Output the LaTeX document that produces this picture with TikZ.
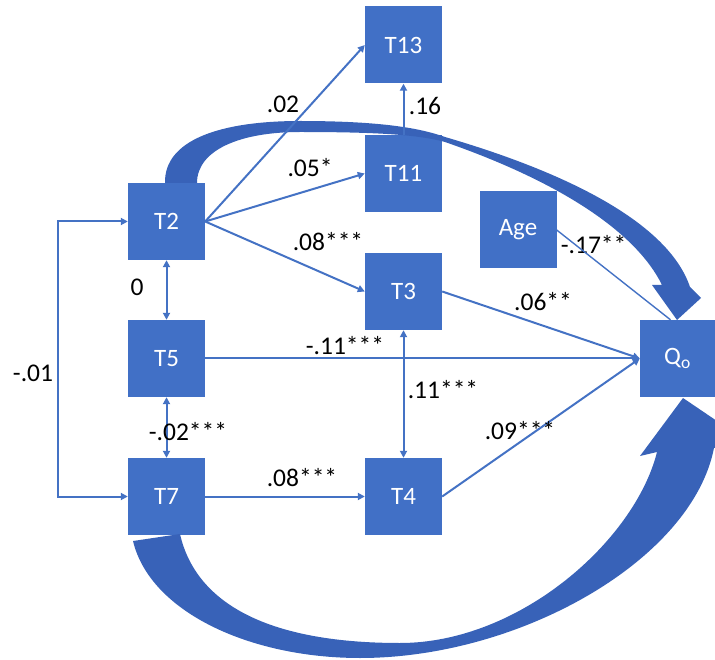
\documentclass[tikz,border=0pt]{standalone}
\usepackage{fontspec}
\setmainfont{Carlito}
\usetikzlibrary{arrows.meta}
\definecolor{boxblue}{HTML}{4170C6}
\definecolor{linkblue}{HTML}{4472C4}
\definecolor{bigblue}{HTML}{3862B8}
\tikzset{
  var/.style={rectangle, fill=boxblue, minimum width=77pt, minimum height=77pt,
    inner sep=0pt, text=white, font=\fontsize{25}{30}\selectfont},
  link/.style={draw=linkblue, line width=2pt, -{Triangle[length=7pt,width=7pt]}},
  both/.style={draw=linkblue, line width=2pt, {Triangle[length=7pt,width=7pt]}-{Triangle[length=7pt,width=7pt]}},
  thinlink/.style={draw=linkblue, line width=1.4pt},
  coef/.style={font=\fontsize{25.5}{30}\selectfont, text=black, inner sep=0pt},
  bigarrow/.style={fill=bigblue, draw=none}
}
\begin{document}
\begin{tikzpicture}[x=1pt, y=-1pt]
\useasboundingbox (0,0) rectangle (715,660);

% variables
\node[var] (T13) at (403.5,45)  {T13};
\node[var] (T11) at (403.5,173.5) {T11};
\node[var] (T2)  at (166.5,221.5) {T2};
\node[var] (Age) at (518,230)   {Age};
\node[var] (T3)  at (403.5,291.5) {T3};
\node[var] (T5)  at (166.5,358.5) {T5};
\node[var, minimum width=75pt] (Qo) at (677.5,358.5) {Q\textsubscript{o}};
\node[var] (T7)  at (166.5,496.5) {T7};
\node[var] (T4)  at (403.5,496.5) {T4};

% coefficient under the upper curved arrow
\node[coef] (lAge) at (600,245) {-.17***};

% upper curved arrow: T2 to Qo
\path[bigarrow] (165,183) .. controls (164,140) and (220,121) .. (300,121)
  .. controls (380,121) and (420,128) .. (445,137)
  .. controls (565,172) and (668,222) .. (690,287)
  -- (701,298) -- (677,320) -- (652,285) -- (662,285)
  .. controls (636,232) and (560,182) .. (445,142)
  .. controls (420,135) and (380,132) .. (300,132)
  .. controls (240,132) and (197,150) .. (197,183) -- cycle;

% lower curved arrow: T7 to Qo
\path[bigarrow] (133,541) .. controls (150,612) and (250,658) .. (360,658)
  .. controls (520,658) and (692,560) .. (714,448)
  -- (745,440) -- (683,398) -- (640,456) -- (657,452)
  .. controls (635,540) and (520,643) .. (400,643)
  .. controls (262,643) and (195,600) .. (180,534) -- cycle;

% paths
\draw[link] (T2.east) -- (T13.west);
\draw[link] (T2.east) -- (T11.west);
\draw[link] (T2.east) -- (T3.west);
\draw[link] (T11.north) -- (T13.south);
\draw[both] (T2.south) -- (T5.north);
\draw[both] (T5.south) -- (T7.north);
\draw[both] (T3.south) -- (T4.north);
\draw[both] (T2.west) -- ++(-70,0) |- (T7.west);
\draw[link] (T7.east) -- (T4.west);
\draw[link] (T5.east) -- (Qo.west);
\draw[link] (T3.east) -- (Qo.west);
\draw[link] (T4.east) -- (Qo.west);
\draw[thinlink] (Age.east) -- ([xshift=-7pt]Qo.north);

% coefficients
\node[coef] (l0213) at (283,104) {.02};
\node[coef] (l16)   at (425,106) {.16};
\node[coef] (l05)   at (310,168) {.05*};
\node[coef] (l08a)  at (328,242) {.08***};
\node[coef] (l0)    at (137,287) {0};
\node[coef] (l01)   at (33,373)  {-.01};
\node[coef] (l11a)  at (345,346) {-.11***};
\node[coef] (l11b)  at (443,390) {.11***};
\node[coef] (l02)   at (188,432) {-.02***};
\node[coef] (l08b)  at (302,478) {.08***};
\node[coef] (l09)   at (520,431) {.09***};
\node[coef] (l06)   at (543,302) {.06**};
\end{tikzpicture}
\end{document}
